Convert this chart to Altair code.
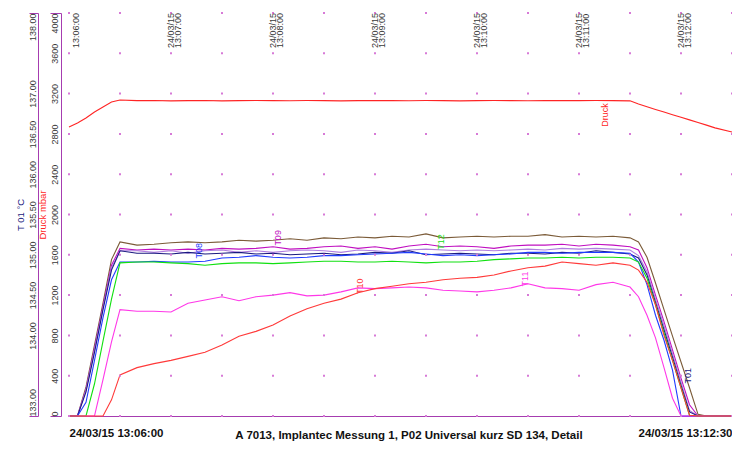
import altair as alt
import pandas as pd

# ---------------- data ----------------
seconds = [0, 5, 10, 15, 20, 25, 30, 40, 50, 60, 70, 80, 90, 100, 110, 120, 130, 140,
           150, 160, 170, 180, 190, 200, 210, 220, 230, 240, 250, 260, 270, 280, 290,
           300, 310, 320, 330, 335, 340, 345, 350, 355, 360, 365, 370, 375, 380, 390]

t02 = [133.00, 133.00, 133.36, 133.88, 134.40, 134.94, 135.16,
       135.12, 135.13, 135.15, 135.16, 135.15, 135.16, 135.18, 135.17, 135.18, 135.20,
       135.18, 135.21, 135.20, 135.22, 135.21, 135.23, 135.22, 135.26, 135.21, 135.22,
       135.23, 135.22, 135.23, 135.23, 135.25, 135.22, 135.23, 135.22, 135.23,
       135.21, 135.16, 134.97, 134.65, 134.32, 133.99, 133.67, 133.35, 133.02, 133.00, 133.00,
       133.00]
t09 = [133.00, 133.00, 133.33, 133.84, 134.36, 134.87, 135.08,
       135.06, 135.07, 135.06, 135.07, 135.06, 135.08, 135.07, 135.08, 135.10, 135.07,
       135.08, 135.10, 135.11, 135.08, 135.10, 135.07, 135.11, 135.13, 135.10, 135.11,
       135.10, 135.08, 135.11, 135.12, 135.12, 135.13, 135.11, 135.13, 135.12,
       135.10, 135.06, 134.84, 134.50, 134.17, 133.82, 133.47, 133.14, 133.00, 133.00, 133.00,
       133.00]
t04 = [133.00, 133.00, 133.32, 133.82, 134.34, 134.84, 135.05,
       135.05, 135.03, 135.05, 135.02, 135.05, 135.06, 135.03, 135.05, 135.03, 135.05,
       135.06, 135.05, 135.03, 135.06, 135.05, 135.03, 135.06, 135.07, 135.06, 135.05,
       135.06, 135.05, 135.06, 135.07, 135.06, 135.08, 135.07, 135.08, 135.07,
       135.06, 134.99, 134.79, 134.45, 134.12, 133.77, 133.42, 133.07, 133.00, 133.00, 133.00,
       133.00]
t01 = [133.00, 133.00, 133.30, 133.79, 134.32, 134.81, 135.05,
       135.02, 135.02, 135.01, 135.03, 135.01, 135.02, 135.03, 135.01, 135.02, 135.00,
       135.01, 135.02, 135.00, 135.01, 135.03, 135.02, 135.05, 135.00, 135.01, 135.02,
       135.01, 135.00, 135.02, 135.02, 135.01, 135.03, 135.02, 135.05, 135.03,
       135.01, 134.96, 134.75, 134.41, 134.07, 133.73, 133.38, 133.05, 133.00, 133.00, 133.00,
       133.00]
t08 = [133.00, 133.00, 133.17, 133.69, 134.22, 134.69, 134.91,
       134.91, 134.92, 134.91, 134.91, 134.92, 134.96, 134.97, 134.99, 134.97, 134.96,
       134.97, 134.99, 134.99, 135.00, 135.01, 135.02, 135.03, 135.01, 134.99, 135.00,
       134.99, 135.00, 135.01, 135.03, 135.03, 135.02, 135.03, 135.03, 135.03,
       135.02, 134.91, 134.63, 134.25, 133.94, 133.57, 133.00, 133.00, 133.00, 133.00, 133.00,
       133.00]
t12 = [133.00, 133.00, 133.00, 133.40, 133.93, 134.45, 134.90,
       134.91, 134.91, 134.90, 134.89, 134.87, 134.89, 134.90, 134.90, 134.89, 134.90,
       134.91, 134.92, 134.92, 134.91, 134.91, 134.92, 134.91, 134.90, 134.91, 134.91,
       134.92, 134.94, 134.95, 134.96, 134.96, 134.97, 134.96, 134.97, 134.97,
       134.96, 134.91, 134.71, 134.38, 134.03, 133.69, 133.35, 133.01, 133.00, 133.00, 133.00,
       133.00]
t11 = [133.00, 133.00, 133.00, 133.00, 133.45, 133.92, 134.32,
       134.30, 134.30, 134.29, 134.40, 134.44, 134.48, 134.43, 134.48, 134.50, 134.53,
       134.49, 134.50, 134.54, 134.59, 134.58, 134.59, 134.60, 134.59, 134.56, 134.55,
       134.54, 134.56, 134.59, 134.64, 134.59, 134.58, 134.56, 134.63, 134.66,
       134.60, 134.48, 134.25, 133.97, 133.60, 133.22, 133.00, 133.00, 133.00, 133.00, 133.00,
       133.00]
t10 = [133.00, 133.00, 133.00, 133.00, 133.00, 133.20, 133.51,
       133.60, 133.65, 133.69, 133.74, 133.79, 133.88, 133.99, 134.05, 134.13, 134.24,
       134.33, 134.40, 134.45, 134.53, 134.58, 134.61, 134.64, 134.66, 134.69, 134.71,
       134.72, 134.75, 134.80, 134.84, 134.86, 134.91, 134.89, 134.87, 134.90,
       134.87, 134.81, 134.66, 134.38, 134.00, 133.69, 133.35, 133.01, 133.00, 133.00, 133.00,
       133.00]
druck = [2869, 2908, 2958, 3018, 3067, 3117, 3137,
         3130, 3132, 3128, 3130, 3131, 3128, 3130, 3132, 3130, 3129, 3131, 3130, 3128,
         3130, 3132, 3130, 3129, 3131, 3130, 3128, 3130, 3131, 3130, 3129, 3130, 3132,
         3130, 3131, 3130,
         3128, 3097, 3069, 3043, 3017, 2991, 2965, 2939, 2913, 2887, 2860,
         2819]

temp_names = ["T02", "T09", "T04", "T01", "T08", "T12", "T11", "T10"]
temp_values = [t02, t09, t04, t01, t08, t12, t11, t10]
series_names = temp_names + ["Druck"]
series_colors = ["#7b5b38", "#c010c0", "#b07ee0", "#1a1a80", "#1f3cff",
                 "#10e010", "#ff38e8", "#ff3a3a", "#ff2424"]

label_series = ["T08", "T09", "T12", "T10", "T11", "T01"]
label_text = ["T08", "T09", "T12", "T10", "T11", "T01"]
label_sec = [76.5, 123, 219, 171, 268, 364]
label_temp = [135.05, 135.21, 135.16, 134.61, 134.70, 133.50]

druck_label_sec = [315]
druck_label_val = [2988]

grid_sec = [0, 30, 60, 90, 120, 150, 180, 210, 240, 270, 300, 330, 360, 390]
temp_ticks = [133.0, 133.5, 134.0, 134.5, 135.0, 135.5, 136.0, 136.5, 137.0, 137.5, 138.0]
temp_tick_labels = ["133.00", "", "134.00", "134.50", "135.00", "135.50", "136.00",
                    "136.50", "137.00", "", "138.00"]
press_ticks = [0, 400, 800, 1200, 1600, 2000, 2400, 2800, 3200, 3600, 4000]

top_sec = [0, 60, 120, 180, 240, 300, 360]
top_labels = ["\n13:06:00", "24/03/15\n13:07:00", "24/03/15\n13:08:00", "24/03/15\n13:09:00",
              "24/03/15\n13:10:00", "24/03/15\n13:11:00", "24/03/15\n13:12:00"]
bottom_sec = [0, 390]
bottom_labels = ["24/03/15 13:06:00", "24/03/15 13:12:30"]
chart_title = "A 7013, Implantec Messung 1, P02 Universal kurz SD 134, Detail"

# ---------------- tables ----------------
rows = []
for name, vals in zip(temp_names, temp_values):
    for s, v in zip(seconds, vals):
        rows.append({"t": s, "T": v, "series": name})
df_temp = pd.DataFrame(rows)
df_press = pd.DataFrame({"t": seconds, "P": druck, "series": ["Druck"] * len(seconds)})
df_lab = pd.DataFrame({"t": label_sec, "T": label_temp, "series": label_series, "txt": label_text})
df_dlab = pd.DataFrame({"t": druck_label_sec, "P": druck_label_val, "series": ["Druck"], "txt": ["Druck"]})
df_grid = pd.DataFrame([{"t": s, "T": v} for s in grid_sec for v in temp_ticks])
df_top = pd.DataFrame({"t": top_sec, "txt": top_labels})

FONT = "Liberation Sans"
PURPLE = "#a63cb0"
DOT = "#d77ad7"

xscale = alt.Scale(domain=[0, 390], nice=False, zero=False)
tscale = alt.Scale(domain=[133, 138], nice=False, zero=False)
pscale = alt.Scale(domain=[0, 4000], nice=False, zero=False)
cscale = alt.Scale(domain=series_names, range=series_colors)

bottom_expr = ("datum.value == " + str(bottom_sec[0]) + " ? '" + bottom_labels[0] + "' : '"
               + bottom_labels[1] + "'")
x_axis = alt.Axis(orient="bottom", values=bottom_sec, labelExpr=bottom_expr, labelFlush=True, labelAngle=0,
                  labelFont=FONT, labelFontSize=11.5, labelFontWeight="bold", labelColor="#111111",
                  labelPadding=11, ticks=False, grid=False, domainColor=PURPLE, domainWidth=1,
                  title=chart_title, titleFont=FONT, titleFontSize=11.5, titleFontWeight="bold",
                  titleColor="#111111", titleX=339.5, titleY=13)

temp_expr = "[" + ",".join("'%s'" % s for s in temp_tick_labels) + "][round((datum.value - 133) * 2)]"
t_axis = alt.Axis(orient="left", offset=31, values=temp_ticks, labelExpr=temp_expr,
                  labelAngle=270,
                  labelAlign={"condition": [{"test": "datum.value >= 138", "value": "right"},
                                            {"test": "datum.value <= 133", "value": "left"}],
                              "value": "center"},
                  labelBaseline="bottom", labelOverlap=False,
                  labelFont=FONT, labelFontSize=9, labelColor="#3a3a3a",
                  ticks=True, tickSize=9, tickColor=PURPLE,
                  tickOpacity={"condition": {"test": "datum.value <= 133 || datum.value >= 138", "value": 1},
                               "value": 0},
                  labelPadding=-8, domainColor=PURPLE, grid=False,
                  title="T 01  °C", titleFont=FONT, titleFontSize=9.5, titleFontWeight="normal",
                  titleColor="#1a1a80", titlePadding=3, titleAngle=270)

p_axis = alt.Axis(orient="left", offset=8, values=press_ticks, format="d",
                  labelAngle=270,
                  labelAlign={"condition": [{"test": "datum.value >= 4000", "value": "right"},
                                            {"test": "datum.value <= 0", "value": "left"}],
                              "value": "center"},
                  labelBaseline="bottom", labelOverlap=False,
                  labelFont=FONT, labelFontSize=9, labelColor="#3a3a3a",
                  ticks=True, tickSize=11, tickColor=PURPLE,
                  tickOpacity={"condition": {"test": "datum.value <= 0 || datum.value >= 4000", "value": 1},
                               "value": 0},
                  labelPadding=-9, domainColor=PURPLE, grid=False,
                  title="Druck  mbar", titleFont=FONT, titleFontSize=9.5, titleFontWeight="normal",
                  titleColor="#ff2424", titlePadding=2, titleAngle=270)

X = alt.X("t:Q", scale=xscale, axis=x_axis)

dots = alt.Chart(df_grid).mark_square(size=4, color=DOT, opacity=1).encode(
    x=X,
    y=alt.Y("T:Q", scale=tscale, axis=None),
)
lines = alt.Chart(df_temp).mark_line(strokeWidth=1.1).encode(
    x=X,
    y=alt.Y("T:Q", scale=tscale, axis=t_axis),
    color=alt.Color("series:N", scale=cscale, legend=None),
    detail="series:N",
)
labels = alt.Chart(df_lab).mark_text(angle=270, fontSize=9, font=FONT, align="center", baseline="middle").encode(
    x=X,
    y=alt.Y("T:Q", scale=tscale, axis=None),
    text="txt:N",
    color=alt.Color("series:N", scale=cscale, legend=None),
)
top = alt.Chart(df_top).mark_text(angle=270, fontSize=9, font=FONT, align="left", baseline="middle",
                                  lineBreak="\n", lineHeight=7, color="#3a3a3a").encode(
    x=X,
    y=alt.value(35),
    text="txt:N",
)
pline = alt.Chart(df_press).mark_line(strokeWidth=1.1).encode(
    x=X,
    y=alt.Y("P:Q", scale=pscale, axis=p_axis),
    color=alt.Color("series:N", scale=cscale, legend=None),
)
plabel = alt.Chart(df_dlab).mark_text(angle=270, fontSize=9, font=FONT, align="center", baseline="middle").encode(
    x=X,
    y=alt.Y("P:Q", scale=pscale, axis=None),
    text="txt:N",
    color=alt.Color("series:N", scale=cscale, legend=None),
)

chart = alt.layer(lines, dots, labels, top, pline, plabel).resolve_scale(y="independent").properties(
    width=663, height=403,
    autosize=alt.AutoSizeParams(type="none"),
    padding={"left": 61, "top": 5, "right": 0, "bottom": 26},
    background="white",
).configure(font=FONT).configure_view(stroke=None)

chart.save("out.html", embed_options={"renderer": "svg", "actions": False})
